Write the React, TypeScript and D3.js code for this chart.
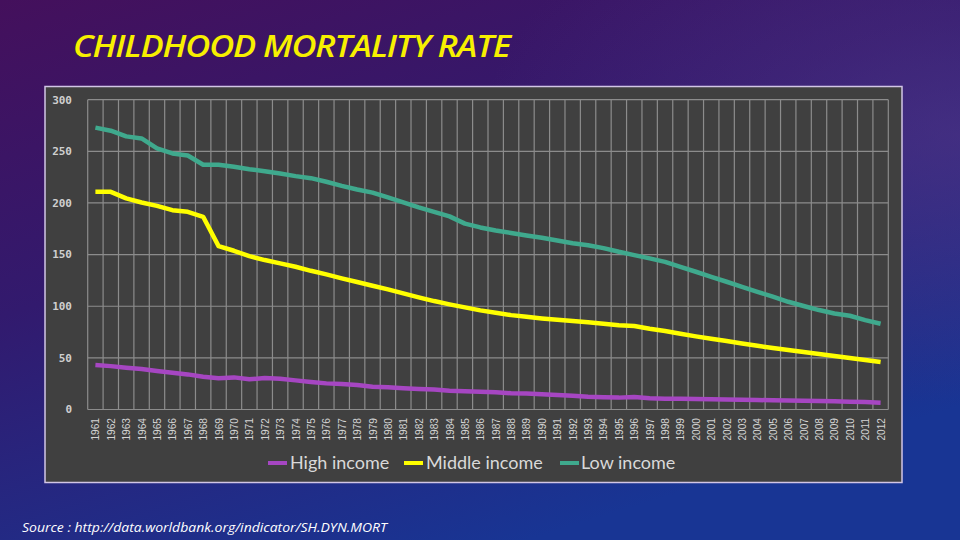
import React from "react";
import * as d3 from "d3";

const years: string[] = d3.range(1961, 2013).map(String);

const highIncome: number[] = [
  43, 42, 40.5, 39.2, 37.3, 35.6, 34, 31.8, 30.2, 31.1, 29.2, 30.5, 29.8, 28.2, 26.6, 25.3,
  24.7, 23.7, 22, 21.5, 20.5, 19.8, 19.3, 18.2, 17.6, 17.3, 16.6, 15.7, 15.4, 14.7, 14.0, 13.4,
  12.4, 11.8, 11.5, 12, 10.8, 10.5, 10.3, 10.1, 9.9, 9.7, 9.5, 9.2, 8.9, 8.7, 8.5, 8.2,
  7.9, 7.6, 7.2, 6.6,
];

const middleIncome: number[] = [
  210.8, 210.8, 204.4, 200.5, 197.2, 193, 191.4, 186.6, 158.2, 153.7, 148.5, 144.7, 141.5, 138.2, 134.3, 130.8,
  127, 123.5, 119.8, 116.3, 112.4, 108.6, 105, 101.8, 98.9, 96, 93.7, 91.4, 89.8, 88.2, 86.9, 85.6,
  84.4, 83, 81.5, 80.8, 78.2, 76, 73.4, 70.8, 68.5, 66.3, 64, 61.7, 59.5, 57.6, 55.6, 53.7,
  51.8, 49.8, 47.9, 46,
];

const lowIncome: number[] = [
  273, 270, 264.5, 262.5, 252.8, 248, 246, 237, 237, 235, 232.7, 230.8, 228.5, 226, 224, 220.5,
  216.5, 213, 210, 205.4, 200.5, 195.7, 191.4, 187, 180, 176.3, 173.4, 171, 168.5, 166.3, 163.7, 161,
  159, 156.3, 152.7, 149.5, 146.3, 143, 138.2, 133.4, 128.5, 123.7, 118.8, 114, 109.2, 104.3, 100.2, 96.3,
  93, 90.8, 86.6, 83,
];

const yTicks: number[] = [0, 50, 100, 150, 200, 250, 300];

const seriesNames: string[] = ["High income", "Middle income", "Low income"];
const seriesColors: string[] = ["#a646c2", "#ffff00", "#3fa98d"];

export default function App() {
  const W = 960;
  const H = 540;
  const x = d3.scaleBand<string>().domain(years).range([87.7, 888.3]).paddingInner(0).paddingOuter(0);
  const y = d3.scaleLinear().domain([0, 300]).range([409.5, 99.7]);
  const bw = x.bandwidth();
  const step = x.step();
  const [x0, x1] = x.range();

  const allSeries = [highIncome, middleIncome, lowIncome];
  const line = d3
    .line<number>()
    .x((_, i) => (x(years[i]) as number) + bw / 2)
    .y((d) => y(d));

  const vGrid = d3.range(0, years.length + 1).map((i) => x0 + i * step);

  const legendItems = [
    { swX: 268, swW: 19, tX: 290 },
    { swX: 404, swW: 19, tX: 426 },
    { swX: 560, swW: 19, tX: 581 },
  ];

  return (
    <svg
      width={W}
      height={H}
      style={{ position: "absolute", left: 0, top: 0, display: "block" }}
    >
      <defs>
        <linearGradient id="bg" x1="0" y1="0" x2="0.55" y2="1">
          <stop offset="0" stopColor="#44105c" />
          <stop offset="0.45" stopColor="#321a6e" />
          <stop offset="1" stopColor="#183594" />
        </linearGradient>
        <radialGradient id="glowR" cx="1" cy="0.25" r="0.5">
          <stop offset="0" stopColor="#5a3a8a" stopOpacity="0.5" />
          <stop offset="1" stopColor="#5a3a8a" stopOpacity="0" />
        </radialGradient>
      </defs>
      <rect x={0} y={0} width={W} height={H} fill="url(#bg)" />
      <rect x={0} y={0} width={W} height={H} fill="url(#glowR)" />

      {/* Title */}
      <text
        x={73}
        y={57}
        fill="#f7f000"
        fontFamily="'Open Sans', 'Liberation Sans', sans-serif"
        fontStyle="italic"
        fontWeight={600}
        fontSize={30}
        textLength={437}
        lengthAdjust="spacingAndGlyphs"
        style={{ letterSpacing: "-1px" }}
      >
        CHILDHOOD MORTALITY RATE
      </text>

      {/* Chart panel */}
      <rect x={45} y={86.5} width={857} height={396} fill="#404040" stroke="#d2c6e6" strokeWidth={1.5} />

      {/* Horizontal gridlines */}
      {yTicks.map((t) => (
        <line key={"h" + t} x1={x0} x2={x1} y1={y(t)} y2={y(t)} stroke="#8c8c8c" strokeWidth={1.2} />
      ))}
      {/* Vertical gridlines */}
      {vGrid.map((gx, i) => (
        <line key={"v" + i} x1={gx} x2={gx} y1={y(300)} y2={y(0)} stroke="#8c8c8c" strokeWidth={1.2} />
      ))}

      {/* Y tick labels */}
      {yTicks.map((t) => (
        <text
          key={"yl" + t}
          x={72}
          y={y(t)}
          dy="0.35em"
          textAnchor="end"
          fill="#cfcfcf"
          fontFamily="'DejaVu Sans Mono', monospace"
          fontWeight="bold"
          fontSize={11}
        >
          {t}
        </text>
      ))}

      {/* X tick labels */}
      {years.map((yr) => {
        const cx = (x(yr) as number) + bw / 2;
        return (
          <text
            key={"xl" + yr}
            transform={`translate(${cx + 4},${418}) rotate(-90)`}
            textAnchor="end"
            fill="#d4d4d4"
            fontFamily="'Liberation Sans', Arial, sans-serif"
            fontSize={11}
            textLength={22.5}
            lengthAdjust="spacingAndGlyphs"
          >
            {yr}
          </text>
        );
      })}

      {/* Series lines */}
      {allSeries.map((s, i) => (
        <path
          key={"s" + i}
          d={line(s) as string}
          fill="none"
          stroke={seriesColors[i]}
          strokeWidth={4.5}
          strokeLinejoin="round"
          strokeLinecap="butt"
        />
      ))}

      {/* Legend */}
      {seriesNames.map((name, i) => (
        <g key={"lg" + i}>
          <rect x={legendItems[i].swX} y={461} width={legendItems[i].swW} height={4} fill={seriesColors[i]} />
          <text
            x={legendItems[i].tX}
            y={463}
            dy="0.35em"
            fill="#d9d9d9"
            fontFamily="Lato, 'Open Sans', sans-serif"
            fontSize={18}
          >
            {name}
          </text>
        </g>
      ))}

      {/* Source */}
      <text
        x={22}
        y={531.5}
        fill="#ffffff"
        fontFamily="'Open Sans', 'DejaVu Sans', sans-serif"
        fontStyle="italic"
        fontSize={12.5}
        textLength={365}
        lengthAdjust="spacingAndGlyphs"
      >
        Source : http://data.worldbank.org/indicator/SH.DYN.MORT
      </text>
    </svg>
  );
}
